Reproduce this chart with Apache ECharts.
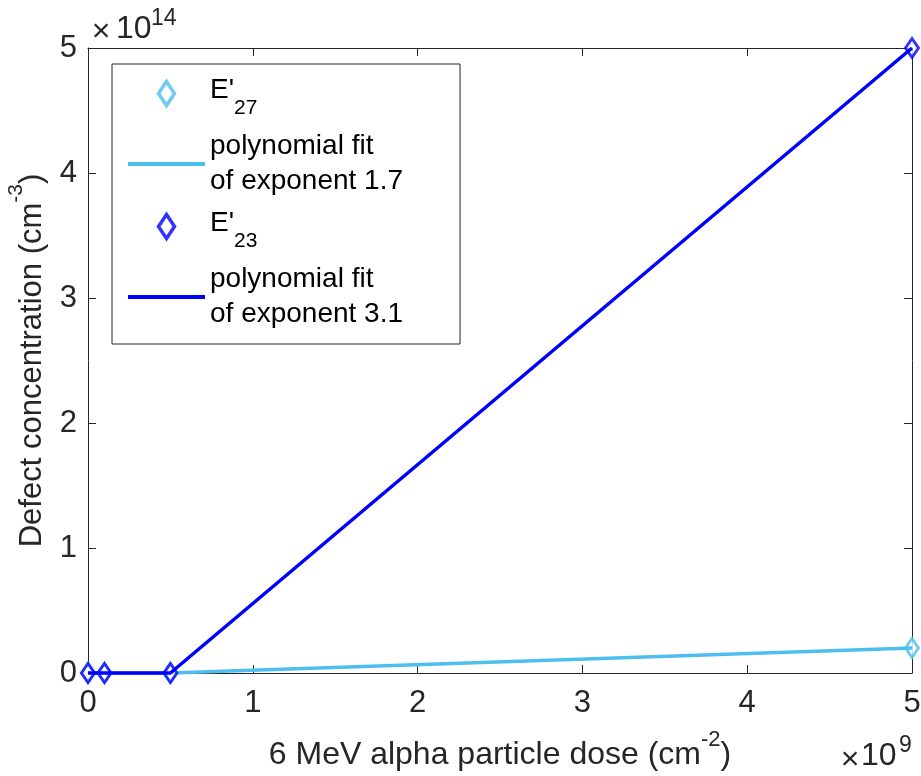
<!DOCTYPE html>
<html><head><meta charset="utf-8">
<script src="https://cdn.jsdelivr.net/npm/echarts@6/dist/echarts.min.js"></script>
<style>html,body{margin:0;padding:0;background:#fff}#c{width:921px;height:776px}</style>
</head><body><div id="c"></div>
<script>
// Values in units of 1e9 cm^-2 (dose) and 1e14 cm^-3 (concentration)
const doseE9 = [0, 0.1, 0.5, 5];
const e27 = [0, 0, 0, 0.2];
const fit17 = [0, 0, 0, 0.2];
const e23 = [0, 0, 0, 5];
const fit31 = [0, 0, 0, 5];
const xTicks = [0, 1, 2, 3, 4, 5];
const yTicks = [0, 1, 2, 3, 4, 5];
const xExp = '9';
const yExp = '14';
const seriesNames = ["E'27", 'fit1.7', "E'23", 'fit3.1'];
const legendLabels = {
  "E'27": "{e|E'}{sub|27}",
  'fit1.7': 'polynomial fit\nof exponent 1.7',
  "E'23": "{e|E'}{sub|23}",
  'fit3.1': 'polynomial fit\nof exponent 3.1'
};
const LIGHT = '#4DBEEE', DARK = '#0000FF', AX = '#262626';
const FONT = 'Liberation Sans';

const pairs = (xs, ys) => xs.map((x, i) => [x, ys[i]]);
const diamond = 'path://M6,0L12,9L6,18L0,9Z';

const chart = echarts.init(document.getElementById('c'));
const axisCommon = {
  min: xTicks[0], max: xTicks[xTicks.length - 1], interval: 1,
  axisLine: {show: true, onZero: false, lineStyle: {color: AX, width: 1}},
  axisTick: {show: true, inside: true, length: 8, lineStyle: {color: AX, width: 1}},
  splitLine: {show: false}
};
const txt = (x, y, s, size, align) => ({type: 'text', x: x, y: y,
  style: {text: s, font: size + 'px "Liberation Sans"', fill: AX, align: align || 'left', verticalAlign: 'middle'}});
chart.setOption({
  animation: false,
  backgroundColor: '#fff',
  grid: {left: 88, right: 9, top: 48, bottom: 103, containLabel: false, outerBoundsMode: 'none'},
  xAxis: [
    Object.assign({}, axisCommon, {
      type: 'value', position: 'bottom',
      axisLabel: {show: true, margin: 15, fontSize: 31, fontFamily: FONT, color: AX},
      name: '6 MeV alpha particle dose (cm{sup|-2})', nameLocation: 'middle', nameGap: 56, nameMoveOverlap: false,
      nameTextStyle: {fontSize: 32, fontFamily: FONT, color: AX, lineHeight: 52,
        rich: {sup: {fontSize: 22, fontFamily: FONT, color: AX, verticalAlign: 'top', lineHeight: 22}}}
    }),
    Object.assign({}, axisCommon, {type: 'value', position: 'top', axisLabel: {show: false}})
  ],
  yAxis: [
    Object.assign({}, axisCommon, {
      type: 'value', position: 'left', min: yTicks[0], max: yTicks[yTicks.length - 1],
      axisLabel: {show: true, margin: 11, fontSize: 31, fontFamily: FONT, color: AX},
      name: 'Defect concentration (cm{sup|-3})', nameLocation: 'middle', nameGap: 30, nameRotate: 90, nameMoveOverlap: false,
      nameTextStyle: {fontSize: 31, fontFamily: FONT, color: AX, lineHeight: 52,
        rich: {sup: {fontSize: 21, fontFamily: FONT, color: AX, verticalAlign: 'top', lineHeight: 22}}}
    }),
    Object.assign({}, axisCommon, {type: 'value', position: 'right', min: yTicks[0], max: yTicks[yTicks.length - 1], axisLabel: {show: false}})
  ],
  legend: {
    orient: 'vertical', left: 112, top: 64, padding: [12, 57, 12, 14],
    itemGap: 10, itemWidth: 77, itemHeight: 24,
    backgroundColor: '#fff', borderColor: AX, borderWidth: 1, borderRadius: 0,
    lineStyle: {width: 4},
    textStyle: {fontSize: 28, fontFamily: FONT, color: '#000', lineHeight: 35,
      rich: {
        e: {fontSize: 28, fontFamily: FONT, color: '#000', lineHeight: 35, verticalAlign: 'top'},
        sub: {fontSize: 21, fontFamily: FONT, color: '#000', lineHeight: 20, verticalAlign: 'top', padding: [22, 0, 0, 0]}
      }},
    formatter: name => legendLabels[name],
    data: [
      {name: seriesNames[0], itemStyle: {borderWidth: 3.5}},
      {name: seriesNames[1], itemStyle: {opacity: 0}},
      {name: seriesNames[2], itemStyle: {borderWidth: 3.5}},
      {name: seriesNames[3], itemStyle: {opacity: 0}}
    ]
  },
  graphic: [
    txt(101, 32, '×', 32, 'center'),
    txt(116, 29.5, '10', 32),
    txt(151, 18.5, yExp, 23),
    txt(850, 760.5, '×', 32, 'center'),
    txt(861, 756.5, '10', 32),
    txt(899, 746, xExp, 23)
  ],
  series: [
    {name: seriesNames[0], type: 'scatter', data: pairs(doseE9, e27), symbol: diamond, symbolSize: [13, 19],
      itemStyle: {color: '#fff', borderColor: LIGHT, borderWidth: 3}, clip: false, z: 2},
    {name: seriesNames[1], type: 'line', data: pairs(doseE9, fit17), symbol: 'none', showSymbol: false,
      lineStyle: {color: LIGHT, width: 3.5}, itemStyle: {color: LIGHT}, clip: false, z: 3},
    {name: seriesNames[2], type: 'scatter', data: pairs(doseE9, e23), symbol: diamond, symbolSize: [13, 19],
      itemStyle: {color: '#fff', borderColor: DARK, borderWidth: 3}, clip: false, z: 4},
    {name: seriesNames[3], type: 'line', data: pairs(doseE9, fit31), symbol: 'none', showSymbol: false,
      lineStyle: {color: DARK, width: 3.5}, itemStyle: {color: DARK}, clip: false, z: 5}
  ]
});
</script></body></html>
